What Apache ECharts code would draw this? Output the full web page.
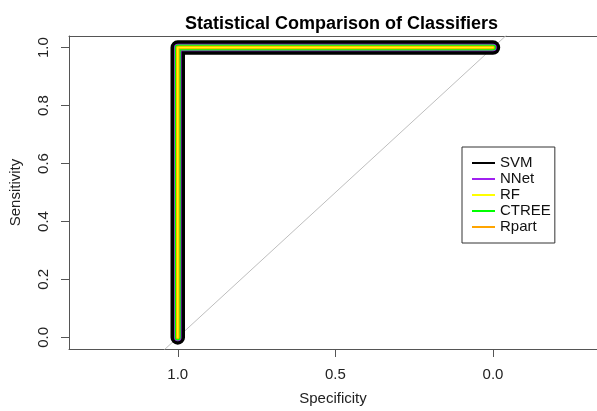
<!DOCTYPE html>
<html>
<head>
<meta charset="utf-8">
<script src="https://cdn.jsdelivr.net/npm/echarts@6/dist/echarts.min.js"></script>
<style>
  html, body { margin: 0; padding: 0; background: #fff; }
  #chart { width: 597px; height: 411px; }
</style>
</head>
<body>
<div id="chart"></div>
<script>
// ROC 曲线数据 (specificity, sensitivity)
const classifiers = ['SVM', 'NNet', 'RF', 'CTREE', 'Rpart'];
const svmSpec = [1.0, 1.0, 0.0],   svmSens = [0.0, 1.0, 1.0];
const nnetSpec = [1.0, 1.0, 0.0],  nnetSens = [0.0, 1.0, 1.0];
const rfSpec = [1.0, 1.0, 0.0],    rfSens = [0.0, 1.0, 1.0];
const ctreeSpec = [1.0, 1.0, 0.0], ctreeSens = [0.0, 1.0, 1.0];
const rpartSpec = [1.0, 1.0, 0.0], rpartSens = [0.0, 1.0, 1.0];
// 对角参考线
const diagSpec = [1.5, -0.5];
const diagSens = [-0.5, 1.5];
// 刻度
const xTicks = [0, 0.5, 1];
const yTicks = [0, 0.2, 0.4, 0.6, 0.8, 1];

const zip = (a, b) => a.map((v, i) => [v, b[i]]);

const chart = echarts.init(document.getElementById('chart'));
const font = 'Liberation Sans, Arial, sans-serif';

// 样式: 颜色, 线宽, 层级
const styles = {
  SVM:   { color: '#000000', width: 14.5, z: 3 },
  NNet:  { color: '#A020F0', width: 7.5,  z: 4 },
  RF:    { color: '#FFFF00', width: 1.5,  z: 7 },
  CTREE: { color: '#00FF00', width: 6,    z: 5 },
  Rpart: { color: '#FFA500', width: 3.5,  z: 6 }
};
const rocData = {
  SVM: zip(svmSpec, svmSens),
  NNet: zip(nnetSpec, nnetSens),
  RF: zip(rfSpec, rfSens),
  CTREE: zip(ctreeSpec, ctreeSens),
  Rpart: zip(rpartSpec, rpartSens)
};

const axisLineStyle = { color: '#555', width: 1 };
const labelStyle = { fontFamily: font, fontSize: 15, color: '#222' };

chart.setOption({
  animation: false,
  title: {
    text: 'Statistical Comparison of Classifiers',
    left: 180,
    top: 10,
    textStyle: { fontFamily: font, fontSize: 18, fontWeight: 'bold', color: '#000' }
  },
  grid: { left: 68, top: 36, bottom: 58, right: 0 },
  legend: {
    orient: 'vertical',
    left: 462,
    top: 147,
    padding: [8, 4, 8, 10],
    itemGap: 0,
    itemWidth: 23,
    itemHeight: 2,
    icon: 'rect',
    borderColor: '#333',
    borderWidth: 1,
    borderRadius: 0,
    data: classifiers,
    textStyle: { fontFamily: font, fontSize: 15, color: '#111', lineHeight: 16 }
  },
  xAxis: [{
    type: 'value',
    inverse: true,
    min: -0.33,
    max: 1.345,
    splitLine: { show: false },
    axisLine: { show: true, onZero: false, lineStyle: axisLineStyle },
    name: 'Specificity',
    nameLocation: 'middle',
    nameGap: 42,
    nameTextStyle: labelStyle,
    axisTick: { show: true, length: 8, customValues: xTicks, lineStyle: axisLineStyle },
    axisLabel: Object.assign({ customValues: xTicks, margin: 18, formatter: v => v.toFixed(1) }, labelStyle)
  }, {
    // 上边框
    type: 'value',
    position: 'top',
    inverse: true,
    min: -0.33,
    max: 1.345,
    splitLine: { show: false },
    axisLine: { show: true, onZero: false, lineStyle: axisLineStyle },
    axisTick: { show: false },
    axisLabel: { show: false }
  }],
  yAxis: {
    type: 'value',
    min: -0.04,
    max: 1.04,
    splitLine: { show: false },
    axisLine: { show: true, onZero: false, lineStyle: axisLineStyle },
    name: 'Sensitivity',
    nameLocation: 'middle',
    nameRotate: 90,
    nameGap: 46,
    nameTextStyle: labelStyle,
    axisTick: { show: true, length: 8, customValues: yTicks, lineStyle: axisLineStyle },
    axisLabel: Object.assign({ customValues: yTicks, rotate: 90, margin: 18, formatter: v => v.toFixed(1) }, labelStyle)
  },
  series: [{
    name: 'diag',
    type: 'line',
    data: zip(diagSpec, diagSens),
    showSymbol: false,
    clip: true,
    silent: true,
    z: 1,
    lineStyle: { color: '#bebebe', width: 1 }
  }].concat(classifiers.map(name => ({
    name: name,
    type: 'line',
    data: rocData[name],
    showSymbol: false,
    clip: false,
    z: styles[name].z,
    itemStyle: { color: styles[name].color },
    lineStyle: { color: styles[name].color, width: styles[name].width, cap: 'round', join: 'round' }
  })))
});
</script>
</body>
</html>
